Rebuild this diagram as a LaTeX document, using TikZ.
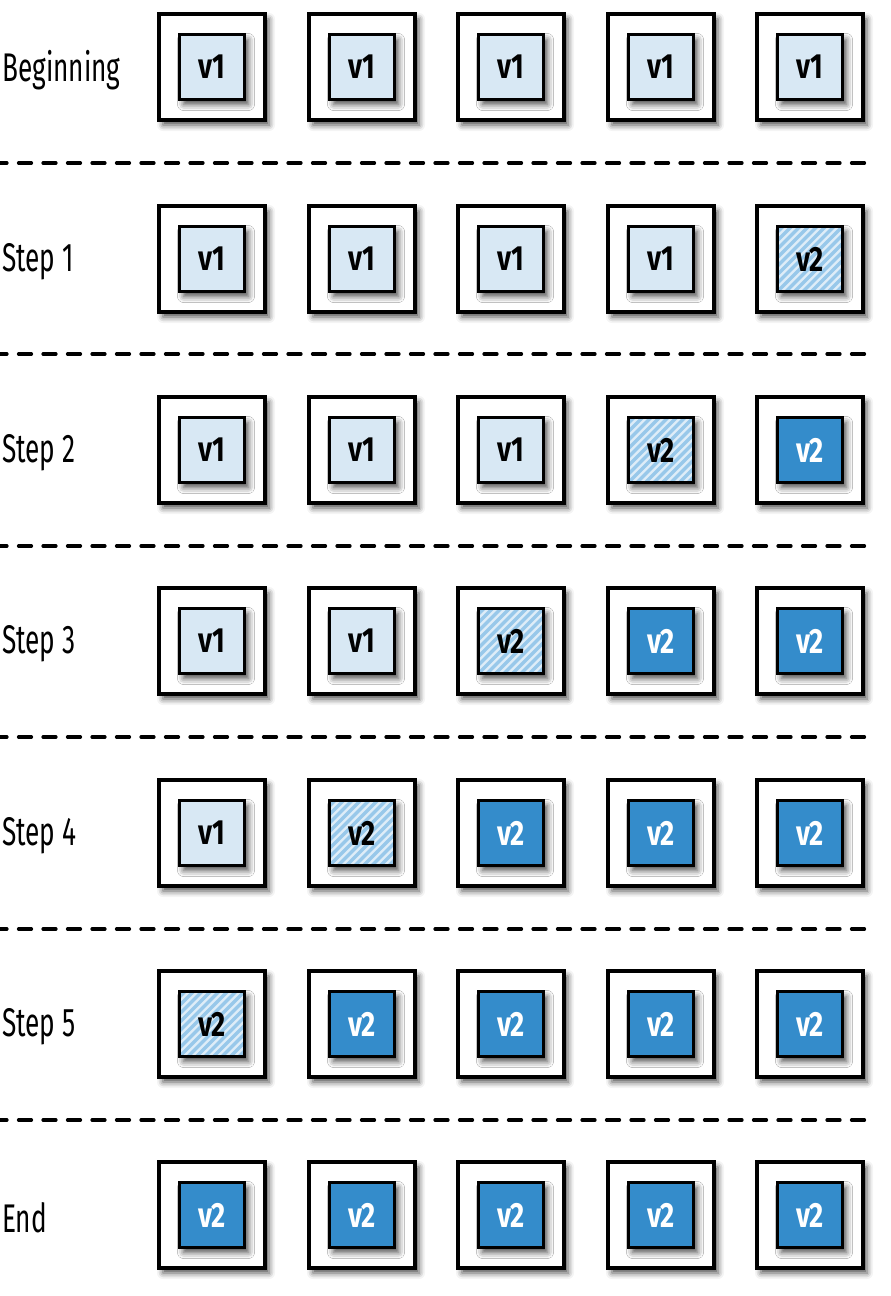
\documentclass[tikz,border=0pt]{standalone}
\usepackage{fontspec}
\setmainfont{Fira Sans}[FakeStretch=0.655]
\newfontfamily\boxfont{Fira Sans Bold}[FakeStretch=0.78]
\usetikzlibrary{shadows.blur}
\definecolor{lightfill}{RGB}{216,232,244}
\definecolor{darkfill}{RGB}{52,140,203}
\definecolor{stripedark}{RGB}{152,200,234}
\definecolor{stripelight}{RGB}{222,237,248}
\tikzset{
  shadowed/.style={blur shadow={shadow xshift=4pt, shadow yshift=-5pt, shadow blur radius=6pt, shadow opacity=70}},
  outerbox/.style={draw=black, line width=3.4pt, fill=white, minimum size=106pt, inner sep=0pt, shadowed},
  innerbox/.style={draw=black, line width=3.4pt, minimum size=65pt, inner sep=0pt, shadowed,
     font=\fontsize{35}{35}\boxfont},
  oldv/.style={innerbox, fill=lightfill, text=black},
  newv/.style={innerbox, fill=darkfill, text=white},
  hatchv/.style={innerbox, fill=stripelight, text=black,
     path picture={
       \foreach \i in {-102,-93.5,...,102}
         \draw[stripedark, line width=3.5pt]
           ([xshift=\i pt-45pt, yshift=-45pt]path picture bounding box.center) --
           ([xshift=\i pt+45pt, yshift=45pt]path picture bounding box.center);
     }},
  rowlabel/.style={anchor=west, inner sep=0pt, font=\fontsize{40}{40}\selectfont},
  sep/.style={line width=3.2pt, dash pattern=on 13pt off 11.5pt, line cap=round}
}
\begin{document}
\begin{tikzpicture}[x=1pt,y=-1pt]
\useasboundingbox (0,0) rectangle (891,1296);
% states: 0 = v1, 1 = hatched v2, 2 = v2
\def\colx{{212,362,511,661,810}}
\def\rowy{{67,259,450,641,833,1024,1215}}
\foreach \r/\lab/\states in {
  0/Beginning/{0,0,0,0,0},
  1/Step 1/{0,0,0,0,1},
  2/Step 2/{0,0,0,1,2},
  3/Step 3/{0,0,1,2,2},
  4/Step 4/{0,1,2,2,2},
  5/Step 5/{1,2,2,2,2},
  6/End/{2,2,2,2,2}} {
  \pgfmathsetmacro{\yy}{\rowy[\r]}
  \node[rowlabel] (lab\r) at (2,\yy+3) {\lab};
  \foreach \s [count=\c from 0] in \states {
    \pgfmathsetmacro{\xx}{\colx[\c]}
    \node[outerbox] (out\r-\c) at (\xx,\yy) {};
    \ifcase\s
      \node[oldv] (in\r-\c) at (out\r-\c.center) {v1};
    \or
      \node[hatchv] (in\r-\c) at (out\r-\c.center) {v2};
    \or
      \node[newv] (in\r-\c) at (out\r-\c.center) {v2};
    \fi
  }
}
\foreach \y [count=\k] in {163,354,546,737,929,1120} {
  \coordinate (sa\k) at (-6,\y);
  \coordinate (sb\k) at (866,\y);
  \draw[sep] (sa\k) -- (sb\k);
}
\end{tikzpicture}
\end{document}
